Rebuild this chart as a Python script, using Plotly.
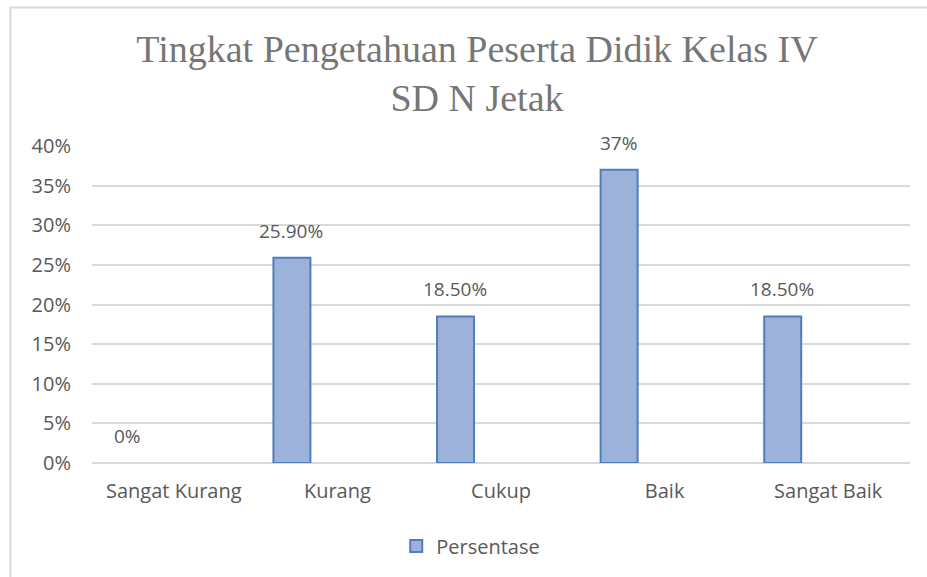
import plotly.graph_objects as go

categories = ["Sangat Kurang", "Kurang", "Cukup", "Baik", "Sangat Baik"]
values = [0.0, 0.259, 0.185, 0.37, 0.185]
value_labels = ["0%", "25.90%", "18.50%", "37%", "18.50%"]
series_name = "Persentase"
y_ticks = [0, 0.05, 0.10, 0.15, 0.20, 0.25, 0.30, 0.35, 0.40]
y_tick_labels = ["0%", "5%", "10%", "15%", "20%", "25%", "30%", "35%", "40%"]

W, H = 927, 577
L, R, T, B = 92, 17, 146, 114

font_sans = "Open Sans"
text_col = "#595959"
bar_fill = "#9DB2D8"
bar_edge = "#4F7DBE"

fig = go.Figure()
fig.add_trace(go.Bar(
    x=categories, y=values, name=series_name,
    width=0.226, offset=-0.391,
    marker=dict(color=bar_fill,
                line=dict(color=bar_edge, width=[0 if v == 0 else 2 for v in values])),
    showlegend=False,
))
# legend entry (same style, no data drawn)
fig.add_trace(go.Bar(
    x=[None], y=[None], name=series_name,
    width=0.226, offset=-0.391,
    marker=dict(color=bar_fill, line=dict(color=bar_edge, width=2)),
    showlegend=True,
))

for c, v, t in zip(categories, values, value_labels):
    fig.add_annotation(x=c, y=v, text=t, showarrow=False, xref="x", yref="y",
                       xshift=-46, yanchor="bottom", yshift=12,
                       font=dict(family=font_sans, size=19, color=text_col))

fig.update_layout(
    width=W, height=H,
    margin=dict(l=L, r=R, t=T, b=B),
    paper_bgcolor="white", plot_bgcolor="white",
    title=dict(text="Tingkat Pengetahuan Peserta Didik Kelas IV<br>SD N Jetak",
               x=477 / W, xanchor="center", xref="container",
               y=1 - 62 / H, yanchor="top", yref="container",
               font=dict(family="Liberation Serif", size=38, color="#767676")),
    legend=dict(orientation="h", x=0.463, xanchor="center", y=-0.262, yanchor="middle",
                font=dict(family=font_sans, size=20, color=text_col)),
    xaxis=dict(showgrid=False, showline=False, zeroline=False,
               tickfont=dict(family=font_sans, size=20, color=text_col),
               ticks="", ticklabelstandoff=14),
    yaxis=dict(range=[0, 0.4], tickvals=y_ticks, ticktext=y_tick_labels,
               showgrid=True, gridcolor="#D9D9D9", gridwidth=1.5,
               zeroline=True, zerolinecolor="#D9D9D9", zerolinewidth=1.5,
               showline=False, ticks="", ticklabelstandoff=20,
               tickfont=dict(family=font_sans, size=20, color=text_col)),
    shapes=[dict(type="rect", xref="paper", yref="paper",
                 x0=(10.5 - L) / (W - L - R), x1=(W + 20 - L) / (W - L - R),
                 y0=-(H + 20 - (H - B)) / (H - T - B), y1=(H - T - B + T - 7.5) / (H - T - B),
                 line=dict(color="#D9D9D9", width=2), layer="below")],
)

fig.write_html("out.html", config={"displayModeBar": False},
               post_script="document.body.style.margin='0';document.body.style.padding='0';")
